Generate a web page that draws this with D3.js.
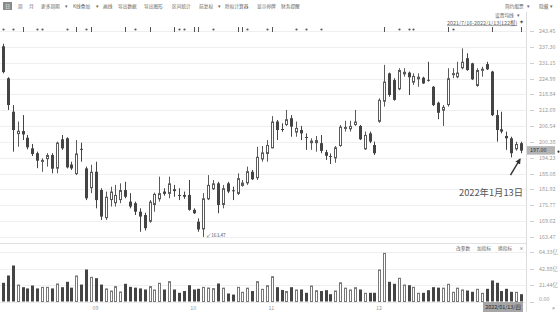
<!DOCTYPE html>
<html><head><meta charset="utf-8">
<script src="https://cdn.jsdelivr.net/npm/d3@7"></script>
<style>html,body{margin:0;padding:0;background:#fff;}svg{display:block;font-family:"Noto Sans CJK SC","Noto Sans",sans-serif;}</style>
</head><body><svg id="c" width="560" height="312"></svg>
<script>
const dates = [
"2021-08-06","2021-08-09","2021-08-10","2021-08-11","2021-08-12","2021-08-13","2021-08-16","2021-08-17","2021-08-18","2021-08-19","2021-08-20","2021-08-23","2021-08-24","2021-08-25","2021-08-26","2021-08-27","2021-08-30","2021-08-31",
"2021-09-01","2021-09-02","2021-09-03","2021-09-06","2021-09-07","2021-09-08","2021-09-09","2021-09-10","2021-09-13","2021-09-14","2021-09-15","2021-09-16","2021-09-17","2021-09-22","2021-09-23","2021-09-24","2021-09-27","2021-09-28","2021-09-29","2021-09-30",
"2021-10-08","2021-10-11","2021-10-12","2021-10-13","2021-10-14","2021-10-15","2021-10-18","2021-10-19","2021-10-20","2021-10-21","2021-10-22","2021-10-25","2021-10-26","2021-10-27","2021-10-28","2021-10-29",
"2021-11-01","2021-11-02","2021-11-03","2021-11-04","2021-11-05","2021-11-08","2021-11-09","2021-11-10","2021-11-11","2021-11-12","2021-11-15","2021-11-16","2021-11-17","2021-11-18","2021-11-19","2021-11-22","2021-11-23","2021-11-24","2021-11-25","2021-11-26","2021-11-29","2021-11-30",
"2021-12-01","2021-12-02","2021-12-03","2021-12-06","2021-12-07","2021-12-08","2021-12-09","2021-12-10","2021-12-13","2021-12-14","2021-12-15","2021-12-16","2021-12-17","2021-12-20","2021-12-21","2021-12-22","2021-12-23","2021-12-24","2021-12-27","2021-12-28","2021-12-29","2021-12-30","2021-12-31",
"2022-01-04","2022-01-05","2022-01-06","2022-01-07","2022-01-10","2022-01-11","2022-01-12","2022-01-13"];
const open = [237.5,225.1,212.1,203.4,204.6,202.0,197.9,196.0,193.0,193.7,195.3,190.0,201.4,201.8,191.6,187.9,197.7,190.1,
182.4,188.8,181.7,170.8,177.8,176.6,177.8,181.7,177.2,176.6,173.3,172.0,169.4,175.9,178.1,181.1,180.2,182.0,179.8,179.8,
179.8,174.0,169.4,166.4,178.1,182.0,184.3,175.9,184.3,181.6,180.2,183.3,184.3,188.8,186.3,193.6,
195.7,197.9,208.3,205.4,206.95,209.6,204.0,205.0,202.3,199.9,199.9,199.9,196.4,194.9,194.0,198.8,206.1,205.3,206.95,206.6,197.5,203.7,
199.2,208.2,216.0,227.0,224.4,220.8,226.6,227.3,223.4,224.7,225.3,224.5,221.8,215.6,212.5,214.7,226.9,225.5,229.0,232.9,230.9,222.1,228.0,
230.6,227.7,210.8,205.3,202.7,201.8,197.5,199.9];
const high = [238.5,225.5,214.7,208.3,210.8,203.1,199.6,196.6,194.0,196.0,196.0,200.5,203.1,202.2,192.7,201.1,200.1,190.8,
191.5,192.7,182.4,181.1,183.0,183.7,184.3,184.9,180.5,177.2,174.6,172.9,177.8,180.7,186.9,182.4,186.9,183.7,182.4,181.1,
185.6,174.6,170.7,180.5,187.5,185.6,184.9,183.7,184.9,183.0,188.2,185.6,190.8,189.5,198.5,198.8,
201.1,210.4,208.9,207.6,212.8,210.8,208.3,206.6,203.7,201.8,202.7,203.1,197.3,195.9,198.8,206.95,208.6,208.6,212.8,206.95,204.4,204.4,
200.5,217.3,230.3,227.3,225.1,229.0,229.0,227.7,227.0,227.0,225.7,231.5,222.1,216.0,214.7,229.0,229.0,231.5,236.7,234.8,231.1,229.0,229.6,
231.5,228.0,212.8,212.1,204.4,202.4,200.5,200.5];
const low = [227.0,212.8,196.6,198.5,201.1,197.5,194.9,190.2,188.8,190.8,188.2,188.2,197.3,190.1,189.5,187.5,192.7,177.8,
180.5,174.6,170.1,170.1,175.3,175.3,176.6,178.5,174.6,172.0,165.5,166.0,169.0,173.3,177.2,179.5,178.5,179.1,177.8,178.3,
173.7,172.4,165.5,163.47,177.8,181.7,172.7,174.6,180.5,177.8,179.8,183.0,183.7,185.6,185.6,192.7,
192.7,197.9,201.1,204.3,206.6,202.4,202.4,201.1,197.3,197.3,196.6,196.0,193.4,191.8,192.3,198.5,204.4,204.4,206.6,201.1,197.3,199.9,
195.3,207.8,214.1,217.9,216.4,220.5,225.7,218.6,222.5,221.8,222.9,223.8,214.3,209.2,206.6,214.1,225.1,225.1,228.6,228.0,224.4,221.8,225.7,
228.3,210.4,200.5,203.7,197.3,194.4,197.0,196.0];
const close = [227.5,214.7,205.0,204.7,203.3,198.3,195.7,193.1,193.4,195.3,190.0,200.1,197.9,190.5,190.1,195.9,197.5,178.5,
188.8,177.8,171.4,179.1,181.1,179.8,181.7,179.1,175.3,173.3,171.4,166.9,177.2,180.2,180.5,180.2,184.3,181.3,179.6,179.1,
174.0,172.7,166.4,178.5,183.7,184.3,175.9,182.4,181.1,181.3,186.3,184.6,189.0,185.9,194.6,196.3,
199.2,208.3,205.0,205.1,209.2,206.3,205.8,203.7,202.1,200.9,201.1,196.9,195.0,194.7,198.3,206.3,206.2,206.6,208.3,201.4,203.1,200.5,
196.0,216.7,223.8,218.6,216.7,228.3,227.6,225.5,226.0,225.7,223.1,224.3,214.7,211.7,214.0,225.1,227.1,227.3,231.5,228.3,224.7,228.3,228.8,
228.6,210.8,205.0,204.4,201.8,196.0,199.6,197.0];
const volume = [24.3,33.8,46.8,22,18.6,17,20.8,17,19,19,17,23.4,18.6,25.6,18,33.8,22,41.6,
32,30.3,22,17,14.3,20,13,23,19,18,17,15.6,20,15.6,24.3,15.6,26.4,15.6,11.3,13.6,
21.2,15.6,16.5,19,18.2,17.4,23.4,18,10.4,9,19,12.6,18,13.6,26.4,16.5,
21.2,32.9,18.6,15,13.6,18.6,15.6,15.6,11.3,20.8,14.7,13.6,14.7,9.5,14.3,25,18,15.6,18.6,15.6,11.3,11.3,
11.3,41.6,63.2,25.6,23,30.8,22,21.2,19,11.3,11.3,14.7,18.6,18,18,23,12.6,18,15.6,14.3,12.6,16.5,11.3,
16.5,27.3,24.3,13.6,16.5,12.6,12.6,9.5];
const priceTicks = [163.47,169.62,175.77,181.92,188.08,194.23,200.38,206.54,212.69,218.84,224.99,231.15,237.30,243.45];
const volTicks = [0,21.44,42.88,64.33];
const volTickLabels = ["0.00","21.44亿","42.88亿","64.33亿"];
const monthStarts = ["2021-09-01","2021-10-08","2021-11-01","2021-12-01"];
const monthLabels = ["09","10","11","12"];
const markerIndex = [0,2,4,7,8,13,15,17,18,25,27,30,35,36,37,39,40,43,48,49,50,54,55,60,62,65,78,81,83,84,91,92,100,106];
const markerType  = ["d","d","b","d","d","d","b","d","b","b","d","b","b","d","d","b","b","d","b","b","d","d","b","d","d","d","b","d","d","d","b","d","b","b"];
const lastPrice = 197.00;
const rangeLabel = "2021/7/16-2022/1/13(122根)";
const dateBoxLabel = "2022/01/13/四";
const annotation = "2022年1月13日";
const lowLabel = "163.47";

const svg = d3.select("#c");
const bars = dates.map((d,i)=>({date:d,o:open[i],h:high[i],l:low[i],c:close[i],v:volume[i]}));
const x = d3.scalePoint().domain(dates).range([3,521]);
const y = d3.scaleLinear().domain([163.47,243.45]).range([237,31]);
const yv = d3.scaleLinear().domain([0,64.33]).range([301.5,252]);
const cx = d => Math.round(x(d.date));
const dark = "#444", hollowStroke = "#5a5a5a";

// toolbar
const tb = svg.append("g").attr("font-size",4.7).attr("fill","#666");
tb.append("rect").attr("x",3).attr("y",2).attr("width",9).attr("height",8).attr("fill","#8a8a8a");
tb.append("text").attr("x",7.5).attr("y",8.2).attr("text-anchor","middle").attr("fill","#fff").text("日");
const items = [["周",18],["月",29],["更多周期",41],["▾",65],["K线叠加",73],["▾",96],["画线",103],["导出数据",118],["导出图形",144],["区间统计",172],["前复权",199],["▾",218],["除权计算器",225],["显示停牌",257],["财务提醒",281],["简约股票",505],["▾",527],["隐藏",539],["▾",550]];
items.forEach(([t,px])=>tb.append("text").attr("x",px).attr("y",8.2).text(t));
svg.append("text").attr("x",495).attr("y",16.5).attr("font-size",4.7).attr("fill","#666").text("设置均线");
svg.append("text").attr("x",517).attr("y",16.5).attr("font-size",4.7).attr("fill","#666").text("▾");
svg.append("text").attr("x",447).attr("y",24.5).attr("font-size",5.4).attr("fill","#666").attr("text-decoration","underline").text(rangeLabel);
svg.append("text").attr("x",519).attr("y",24).attr("font-size",5.5).attr("fill","#444").text("✦");

// grid
const grid = svg.append("g");
grid.selectAll("line.pg").data(priceTicks).join("line")
  .attr("x1",0).attr("x2",526).attr("y1",d=>Math.round(y(d))+0.5).attr("y2",d=>Math.round(y(d))+0.5)
  .attr("stroke","#efefef");
grid.selectAll("line.vg").data(volTicks.slice(1)).join("line")
  .attr("x1",0).attr("x2",526).attr("y1",d=>Math.round(yv(d))+0.5).attr("y2",d=>Math.round(yv(d))+0.5)
  .attr("stroke","#efefef");
svg.append("line").attr("x1",0).attr("x2",526).attr("y1",243.5).attr("y2",243.5).attr("stroke","#e2e2e2");
svg.append("line").attr("x1",0).attr("x2",526).attr("y1",302.5).attr("y2",302.5).attr("stroke","#eaeaea");
svg.append("line").attr("x1",526.5).attr("x2",526.5).attr("y1",12).attr("y2",312).attr("stroke","#dcdcdc");

// markers
const mk = svg.append("g").attr("fill","#555");
markerIndex.forEach((mi,k)=>{
  const px = Math.round(x(dates[mi]));
  if(markerType[k]==="d") mk.append("circle").attr("cx",px+0.5).attr("cy",29.5).attr("r",1.1);
  else mk.append("rect").attr("x",px).attr("y",27).attr("width",1).attr("height",5);
});

// candles
const cg = svg.append("g");
cg.selectAll("line.w").data(bars).join("line")
  .attr("x1",d=>cx(d)+0.5).attr("x2",d=>cx(d)+0.5)
  .attr("y1",d=>y(d.h)).attr("y2",d=>y(d.l))
  .attr("stroke",d=>d.c>=d.o?hollowStroke:dark).attr("stroke-width",1);
cg.selectAll("rect.b").data(bars).join("rect")
  .attr("x",d=>d.c>=d.o?cx(d)-0.5:cx(d)-1)
  .attr("width",d=>d.c>=d.o?2:3)
  .attr("y",d=>{const t=y(Math.max(d.o,d.c));return d.c>=d.o?t+0.5:t;})
  .attr("height",d=>{const hh=Math.max(1,Math.abs(y(d.o)-y(d.c)));return d.c>=d.o?Math.max(1,hh-1):hh;})
  .attr("fill",d=>d.c>=d.o?"#fff":dark)
  .attr("stroke",d=>d.c>=d.o?hollowStroke:"none").attr("stroke-width",1);

// volume
const vg = svg.append("g");
vg.selectAll("rect").data(bars).join("rect")
  .attr("x",d=>d.c>=d.o?cx(d)-0.5:cx(d)-1)
  .attr("width",d=>d.c>=d.o?2:3)
  .attr("y",d=>d.c>=d.o?yv(d.v)+0.5:yv(d.v))
  .attr("height",d=>d.c>=d.o?Math.max(0,yv(0)-yv(d.v)-0.5):yv(0)-yv(d.v))
  .attr("fill",d=>d.c>=d.o?"#fff":dark)
  .attr("stroke",d=>d.c>=d.o?"#777":"none").attr("stroke-width",1);

// right price axis
const ra = svg.append("g").attr("font-size",5.4).attr("fill","#9a9a9a");
priceTicks.forEach(t=>{
  const py = Math.round(y(t))+0.5;
  ra.append("line").attr("x1",530).attr("x2",534).attr("y1",py).attr("y2",py).attr("stroke","#d0d0d0");
  ra.append("text").attr("x",539).attr("y",py+1.9).text(t.toFixed(2));
});
volTicks.forEach((t,k)=>{
  const py = Math.round(yv(t))+0.5;
  ra.append("line").attr("x1",530).attr("x2",534).attr("y1",py).attr("y2",py).attr("stroke","#d0d0d0");
  ra.append("text").attr("x",539).attr("y",(k===0?py-3:py)+1.9).text(volTickLabels[k]);
});
// last price box
const lp = y(lastPrice);
svg.append("rect").attr("x",527).attr("y",lp-4.5).attr("width",28).attr("height",8.5).attr("fill","#b4b4b4");
svg.append("text").attr("x",530).attr("y",lp+1.7).attr("font-size",5.4).attr("fill","#333").text(lastPrice.toFixed(2));
svg.append("circle").attr("cx",558.5).attr("cy",lp+1).attr("r",1.1).attr("fill","#333");

// volume panel tools
const vt = svg.append("g").attr("font-size",4.7).attr("fill","#666");
[["改参数",456],["加指标",477],["换指标",498],["×",519]].forEach(([t,px])=>vt.append("text").attr("x",px).attr("y",249.8).text(t));

// x axis month labels
const xa = svg.append("g").attr("font-size",5.4).attr("fill","#999");
monthStarts.forEach((m,k)=>xa.append("text").attr("x",x(m)+1.5).attr("y",309.5).text(monthLabels[k]));
const lx = x(dates[dates.length-1]);
svg.append("rect").attr("x",lx-38).attr("y",302).attr("width",40).attr("height",10).attr("fill","#a6a6a6");
svg.append("text").attr("x",lx-18).attr("y",309.3).attr("text-anchor","middle").attr("font-size",5.4).attr("fill","#2a2a2a").text(dateBoxLabel);
svg.append("text").attr("x",552).attr("y",309.5).attr("font-size",6).attr("fill","#777").text("»");

// low label
const lb = bars[41];
svg.append("text").attr("x",x(lb.date)+3).attr("y",y(lb.l)).attr("font-size",4.8).attr("fill","#555").text("↙" + lowLabel);

// annotation arrow
const last = bars[bars.length-1];
const tipX = lx-1, tipY = y(last.l)+6;
const tailX = lx-10.5, tailY = y(last.l)+22;
svg.append("defs").append("marker").attr("id","ah").attr("viewBox","0 0 10 10").attr("refX",8).attr("refY",5)
  .attr("markerWidth",4).attr("markerHeight",4).attr("orient","auto")
  .append("path").attr("d","M0,0L10,5L0,10z").attr("fill","#333");
svg.append("line").attr("x1",tailX).attr("y1",tailY).attr("x2",tipX).attr("y2",tipY)
  .attr("stroke","#333").attr("stroke-width",1.4).attr("marker-end","url(#ah)");
svg.append("text").attr("x",lx+2).attr("y",y(last.l)+43).attr("text-anchor","end").attr("font-size",9.3).attr("fill","#555").text(annotation);
</script></body></html>
